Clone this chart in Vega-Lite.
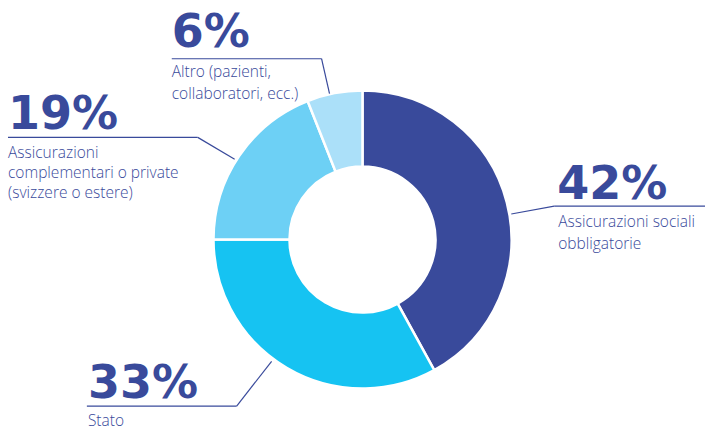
{
  "$schema": "https://vega.github.io/schema/vega-lite/v6.json",
  "width": 706,
  "height": 430,
  "autosize": {"type": "fit", "contains": "padding"},
  "padding": 0,
  "background": "white",
  "config": {"view": {"stroke": null}},
  "data": {
    "values": [
      {"category": "Assicurazioni sociali obbligatorie", "label": "Assicurazioni sociali\nobbligatorie", "value": 0.42},
      {"category": "Stato", "label": "Stato", "value": 0.33},
      {"category": "Assicurazioni complementari o private", "label": "Assicurazioni\ncomplementari o private\n(svizzere o estere)", "value": 0.19},
      {"category": "Altro", "label": "Altro (pazienti,\ncollaboratori, ecc.)", "value": 0.06}
    ]
  },
  "layer": [
    {
      "mark": {"type": "arc", "outerRadius": 149, "innerRadius": 73, "stroke": "white", "strokeWidth": 2.5},
      "encoding": {
        "x": {"datum": 0, "type": "quantitative", "scale": {"domain": [-245.27, 231.76], "nice": false, "zero": false}, "axis": null},
        "y": {"datum": 0, "type": "quantitative", "scale": {"domain": [-127.91, 162.64], "nice": false, "zero": false}, "axis": null},
        "theta": {"field": "value", "type": "quantitative", "stack": true},
        "order": {"field": "value", "type": "quantitative", "sort": "descending"},
        "color": {
          "field": "category", "type": "nominal", "legend": null,
          "scale": {
            "domain": ["Assicurazioni sociali obbligatorie", "Stato", "Assicurazioni complementari o private", "Altro"],
            "range": ["#394a9b", "#16c3f2", "#6dd0f5", "#abe0f9"]
          }
        }
      }
    },
    {"transform": [{"filter": "datum.category === 'Altro'"}], "mark": {"type": "rule", "color": "#394a9b", "strokeWidth": 1.2}, "encoding": {"x": {"datum": -129.05}, "y": {"datum": 122.77}, "x2": {"datum": -27.7}, "y2": {"datum": 122.77}}},
    {"transform": [{"filter": "datum.category === 'Altro'"}], "mark": {"type": "rule", "color": "#394a9b", "strokeWidth": 1.2}, "encoding": {"x": {"datum": -27.7}, "y": {"datum": 122.77}, "x2": {"datum": -22.3}, "y2": {"datum": 99.12}}},
    {"transform": [{"filter": "datum.category === 'Assicurazioni complementari o private'"}], "mark": {"type": "rule", "color": "#394a9b", "strokeWidth": 1.2}, "encoding": {"x": {"datum": -239.86}, "y": {"datum": 69.39}, "x2": {"datum": -111.49}, "y2": {"datum": 69.39}}},
    {"transform": [{"filter": "datum.category === 'Assicurazioni complementari o private'"}], "mark": {"type": "rule", "color": "#394a9b", "strokeWidth": 1.2}, "encoding": {"x": {"datum": -111.49}, "y": {"datum": 69.39}, "x2": {"datum": -86.49}, "y2": {"datum": 54.53}}},
    {"transform": [{"filter": "datum.category === 'Assicurazioni sociali obbligatorie'"}], "mark": {"type": "rule", "color": "#394a9b", "strokeWidth": 1.2}, "encoding": {"x": {"datum": 100.68}, "y": {"datum": 17.36}, "x2": {"datum": 129.73}, "y2": {"datum": 22.77}}},
    {"transform": [{"filter": "datum.category === 'Assicurazioni sociali obbligatorie'"}], "mark": {"type": "rule", "color": "#394a9b", "strokeWidth": 1.2}, "encoding": {"x": {"datum": 129.73}, "y": {"datum": 22.77}, "x2": {"datum": 231.76}, "y2": {"datum": 22.77}}},
    {"transform": [{"filter": "datum.category === 'Stato'"}], "mark": {"type": "rule", "color": "#394a9b", "strokeWidth": 1.2}, "encoding": {"x": {"datum": -61.49}, "y": {"datum": -82.64}, "x2": {"datum": -85.14}, "y2": {"datum": -113.04}}},
    {"transform": [{"filter": "datum.category === 'Stato'"}], "mark": {"type": "rule", "color": "#394a9b", "strokeWidth": 1.2}, "encoding": {"x": {"datum": -85.14}, "y": {"datum": -113.04}, "x2": {"datum": -186.49}, "y2": {"datum": -113.04}}},
    {"transform": [{"filter": "datum.category === 'Altro'"}], "mark": {"type": "text", "align": "left", "baseline": "alphabetic", "font": "DejaVu Sans", "fontWeight": "bold", "fontSize": 46, "color": "#394a9b"}, "encoding": {"x": {"datum": -129.05}, "y": {"datum": 130.88}, "text": {"field": "value", "format": ".0%"}}},
    {"transform": [{"filter": "datum.category === 'Assicurazioni complementari o private'"}], "mark": {"type": "text", "align": "left", "baseline": "alphabetic", "font": "DejaVu Sans", "fontWeight": "bold", "fontSize": 46, "color": "#394a9b"}, "encoding": {"x": {"datum": -239.86}, "y": {"datum": 74.8}, "text": {"field": "value", "format": ".0%"}}},
    {"transform": [{"filter": "datum.category === 'Assicurazioni sociali obbligatorie'"}], "mark": {"type": "text", "align": "left", "baseline": "alphabetic", "font": "DejaVu Sans", "fontWeight": "bold", "fontSize": 46, "color": "#394a9b"}, "encoding": {"x": {"datum": 131.76}, "y": {"datum": 27.5}, "text": {"field": "value", "format": ".0%"}}},
    {"transform": [{"filter": "datum.category === 'Stato'"}], "mark": {"type": "text", "align": "left", "baseline": "alphabetic", "font": "DejaVu Sans", "fontWeight": "bold", "fontSize": 46, "color": "#394a9b"}, "encoding": {"x": {"datum": -185.81}, "y": {"datum": -107.64}, "text": {"field": "value", "format": ".0%"}}},
    {"transform": [{"filter": "datum.category === 'Altro'"}], "mark": {"type": "text", "align": "left", "baseline": "alphabetic", "font": "Open Sans", "fontWeight": 300, "fontSize": 15.5, "letterSpacing": 0.5, "lineBreak": "\n", "lineHeight": 22, "color": "#394a9b"}, "encoding": {"x": {"datum": -129.05}, "y": {"datum": 110.61}, "text": {"field": "label"}}},
    {"transform": [{"filter": "datum.category === 'Assicurazioni complementari o private'"}], "mark": {"type": "text", "align": "left", "baseline": "alphabetic", "font": "Open Sans", "fontWeight": 300, "fontSize": 15.5, "letterSpacing": 0.5, "lineBreak": "\n", "lineHeight": 20, "color": "#394a9b"}, "encoding": {"x": {"datum": -239.86}, "y": {"datum": 55.2}, "text": {"field": "label"}}},
    {"transform": [{"filter": "datum.category === 'Assicurazioni sociali obbligatorie'"}], "mark": {"type": "text", "align": "left", "baseline": "alphabetic", "font": "Open Sans", "fontWeight": 300, "fontSize": 15.5, "letterSpacing": 0.5, "lineBreak": "\n", "lineHeight": 22, "color": "#394a9b"}, "encoding": {"x": {"datum": 132.43}, "y": {"datum": 8.58}, "text": {"field": "label"}}},
    {"transform": [{"filter": "datum.category === 'Stato'"}], "mark": {"type": "text", "align": "left", "baseline": "alphabetic", "font": "Open Sans", "fontWeight": 300, "fontSize": 15.5, "letterSpacing": 0.5, "lineBreak": "\n", "lineHeight": 22, "color": "#394a9b"}, "encoding": {"x": {"datum": -185.81}, "y": {"datum": -126.55}, "text": {"field": "label"}}}
  ]
}
